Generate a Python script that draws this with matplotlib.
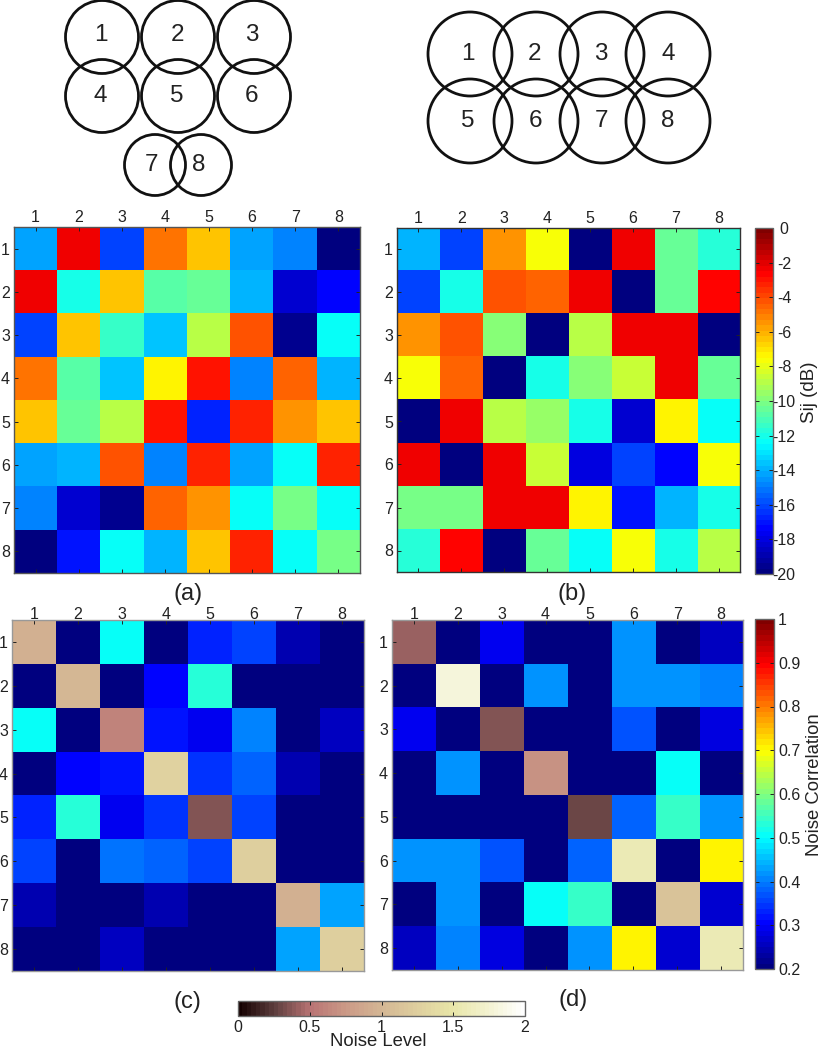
#!/usr/bin/env python3
import matplotlib
matplotlib.use('Agg')
import matplotlib.pyplot as plt
import numpy as np
from matplotlib.cm import ScalarMappable
from matplotlib.colors import LinearSegmentedColormap, Normalize
from matplotlib.patches import Circle

W, H = 822, 1050
plt.rcParams['font.family'] = ['Liberation Sans', 'DejaVu Sans']

labels = [str(i) for i in range(1, 9)]

sij_a = [
  [-14.2, -2.4, -16.0, -5.0, -6.3, -14.2, -14.8, -20.0],
  [-2.5, -12.0, -6.3, -10.8, -10.5, -13.8, -18.4, -17.3],
  [-16.2, -6.3, -11.3, -13.5, -9.0, -4.2, -19.6, -12.5],
  [-5.0, -10.8, -13.5, -7.2, -2.9, -14.8, -4.4, -13.8],
  [-6.3, -10.5, -9.0, -2.9, -16.8, -3.2, -5.6, -6.3],
  [-14.2, -13.8, -4.2, -14.8, -3.2, -14.2, -12.5, -3.2],
  [-14.8, -18.4, -19.6, -4.4, -5.6, -12.5, -10.3, -12.2],
  [-20.0, -17.0, -12.5, -13.8, -6.3, -3.2, -12.2, -10.3],
]
sij_b = [
  [-13.8, -16.0, -5.4, -7.75, -19.8, -2.4, -10.4, -11.6],
  [-16.2, -12.0, -4.2, -4.6, -2.5, -19.8, -10.4, -2.7],
  [-5.4, -4.2, -10.0, -19.8, -8.8, -2.5, -2.5, -19.8],
  [-7.75, -4.6, -19.8, -12.1, -9.7, -8.6, -2.5, -10.6],
  [-19.8, -2.5, -9.0, -9.6, -12.0, -18.2, -7.5, -12.3],
  [-2.5, -19.8, -2.5, -8.6, -18.0, -16.0, -17.2, -7.75],
  [-10.2, -10.2, -2.5, -2.5, -7.5, -17.0, -13.8, -12.0],
  [-11.8, -2.7, -19.8, -10.6, -12.4, -7.75, -12.0, -8.8],
]
corr_c = [
  [np.nan, .2, .508, .2, .326, .354, .245, .2],
  [.2, np.nan, .2, .31, .526, .2, .2, .2],
  [.508, .2, np.nan, .32, .30, .40, .2, .256],
  [.2, .31, .32, np.nan, .34, .38, .244, .2],
  [.326, .526, .30, .34, np.nan, .36, .2, .2],
  [.354, .2, .39, .38, .36, np.nan, .2, .2],
  [.245, .2, .2, .244, .2, .2, np.nan, .43],
  [.2, .2, .256, .2, .2, .2, .43, np.nan],
]
corr_d = [
  [np.nan, .2, .30, .2, .2, .424, .2, .26],
  [.2, np.nan, .2, .416, .2, .424, .416, .40],
  [.30, .2, np.nan, .2, .2, .37, .2, .28],
  [.2, .416, .2, np.nan, .2, .2, .506, .2],
  [.2, .2, .2, .2, np.nan, .386, .54, .414],
  [.424, .424, .37, .2, .386, np.nan, .2, .712],
  [.2, .416, .2, .506, .54, .2, np.nan, .265],
  [.26, .405, .28, .2, .414, .712, .265, np.nan],
]
noise_c = [.95, 1.02, .62, 1.3, .37, 1.25, .95, 1.28]
noise_d = [.43, 1.8, .36, .7, .3, 1.58, 1.15, 1.58]

sij_ticks = [0, -2, -4, -6, -8, -10, -12, -14, -16, -18, -20]
corr_ticks = [.2, .3, .4, .5, .6, .7, .8, .9, 1]
corr_ticklabels = ['0.2', '0.3', '0.4', '0.5', '0.6', '0.7', '0.8', '0.9', '1']
noise_ticks = [0, .5, 1, 1.5, 2]
noise_ticklabels = ['0', '0.5', '1', '1.5', '2']

# matlab style jet, yellow sits lower than in matplotlib's own
jet = LinearSegmentedColormap.from_list('mjet', [
  (0, (0, 0, .5)), (.125, (0, 0, 1)), (.375, (0, 1, 1)), (.625, (1, 1, 0)),
  (.875, (1, 0, 0)), (1, (.5, 0, 0))], N=64)
pinkish = LinearSegmentedColormap.from_list('pinkish', [
  (0, '#140000'), (.125, '#5f3f3f'), (.25, '#b97474'), (.375, '#cb9a87'),
  (.5, '#d4b694'), (.75, '#e8e6a8'), (.875, '#f3f2d0'), (1, '#ffffff')], N=64)

def px_axes(fig, x0, y0, x1, y1):
  return fig.add_axes([x0 / W, 1 - y1 / H, (x1 - x0) / W, (y1 - y0) / H])

def style_matrix(ax, edge, toppad):
  ax.set_xticks(range(8), labels)
  ax.set_yticks(range(8), labels)
  ax.xaxis.tick_top()
  ax.tick_params(direction='in', length=3, width=.7, top=True, bottom=True,
                 left=True, right=True, labelsize=11.5, pad=3,
                 color='#222222', labelcolor='#222222')
  ax.tick_params(axis='x', pad=toppad)
  for s in ax.spines.values():
    s.set_color(edge)
    s.set_linewidth(1)

def style_cbar(cb, ticks, ticklabels, vertical=True):
  cb.outline.set_edgecolor('#666666')
  cb.outline.set_linewidth(1)
  cb.set_ticks(ticks, labels=ticklabels)
  cb.ax.minorticks_off()
  if vertical:
    cb.ax.tick_params(direction='in', length=3, width=.7, left=True, right=True,
                      labelsize=11.5, pad=3, color='#222222', labelcolor='#222222')
  else:
    cb.ax.tick_params(direction='in', length=3, width=.7, top=True, bottom=True,
                      labelsize=11.5, pad=3, color='#222222', labelcolor='#222222')

def main():
  fig = plt.figure(figsize=(W / 100, H / 100), dpi=100)

  # sensor layouts, drawn in pixel coordinates
  over = fig.add_axes([0, 0, 1, 1])
  over.set_xlim(0, W)
  over.set_ylim(H, 0)
  over.axis('off')
  layout_a = [(102, 37, 36.5), (178, 37, 36.5), (254, 37, 36.5),
              (102, 96, 36.5), (178, 96, 36.5), (254, 96, 36.5),
              (155, 165, 30.5), (201, 165, 30.5)]
  layout_b = [(470, 54, 42), (536, 54, 42), (602, 54, 42), (668, 54, 42),
              (470, 121, 42), (536, 121, 42), (602, 121, 42), (668, 121, 42)]
  text_a = [(101, 35), (177, 35), (252, 35), (100, 96), (177, 96), (251, 96), (151, 165), (199, 165)]
  text_b = [(468, 54), (534, 54), (601, 54), (668, 54), (468, 121), (535, 121), (601, 121), (668, 121)]
  for circles, texts in ((layout_a, text_a), (layout_b, text_b)):
    for (cx, cy, r), (tx, ty), lab in zip(circles, texts, labels):
      over.add_patch(Circle((cx, cy), r, fill=False, ec='#111111', lw=2))
      over.text(tx, ty, lab, fontsize=17.5, ha='center', va='center', color='#222222')

  ax_a = px_axes(fig, 14, 227, 360, 573)
  ax_a.imshow(sij_a, cmap=jet, vmin=-20, vmax=0, interpolation='nearest', aspect='auto')
  style_matrix(ax_a, '#555555', 1.5)

  ax_b = px_axes(fig, 397, 228, 740, 572)
  ax_b.imshow(sij_b, cmap=jet, vmin=-20, vmax=0, interpolation='nearest', aspect='auto')
  style_matrix(ax_b, '#333333', 1.5)

  for corr, noise, box in ((corr_c, noise_c, (12, 620, 364, 971)),
                           (corr_d, noise_d, (392, 620, 743, 970))):
    ax = px_axes(fig, *box)
    ax.imshow(np.ma.masked_invalid(corr), cmap=jet, vmin=.2, vmax=1,
              interpolation='nearest', aspect='auto')
    ax.imshow(np.ma.masked_equal(np.diag(noise), 0), cmap=pinkish, vmin=0, vmax=2,
              interpolation='nearest', aspect='auto')
    style_matrix(ax, '#999999', -1.5)

  over.set_zorder(5)
  for x, y, s in ((188, 594, '(a)'), (572, 594, '(b)'), (187, 1002, '(c)'), (573, 1000, '(d)')):
    over.text(x, y, s, fontsize=17, ha='center', va='center', color='#222222')

  cax1 = px_axes(fig, 755, 228, 773, 574)
  cb1 = fig.colorbar(ScalarMappable(Normalize(-20, 0), jet), cax=cax1)
  style_cbar(cb1, sij_ticks, [str(t) for t in sij_ticks])
  cax1.tick_params(axis='y', pad=8)
  for t in cax1.get_yticklabels():
    t.set_ha('center')
  over.text(809, 392, 'Sij (dB)', fontsize=13.5, rotation=90, ha='center', va='center', color='#222222')

  cax2 = px_axes(fig, 755, 619, 774, 969)
  cb2 = fig.colorbar(ScalarMappable(Normalize(.2, 1), jet), cax=cax2)
  style_cbar(cb2, corr_ticks, corr_ticklabels)
  over.text(814, 785, 'Noise Correlation', fontsize=13.3, rotation=90, ha='center', va='center', color='#222222')

  cax3 = px_axes(fig, 238, 1001, 525, 1016)
  cb3 = fig.colorbar(ScalarMappable(Normalize(0, 2), pinkish), cax=cax3, orientation='horizontal')
  style_cbar(cb3, noise_ticks, noise_ticklabels, vertical=False)
  over.text(378, 1042, 'Noise Level', fontsize=13.3, ha='center', va='center', color='#222222')

  fig.savefig('out.png', dpi=100)

if __name__ == '__main__':
  main()
